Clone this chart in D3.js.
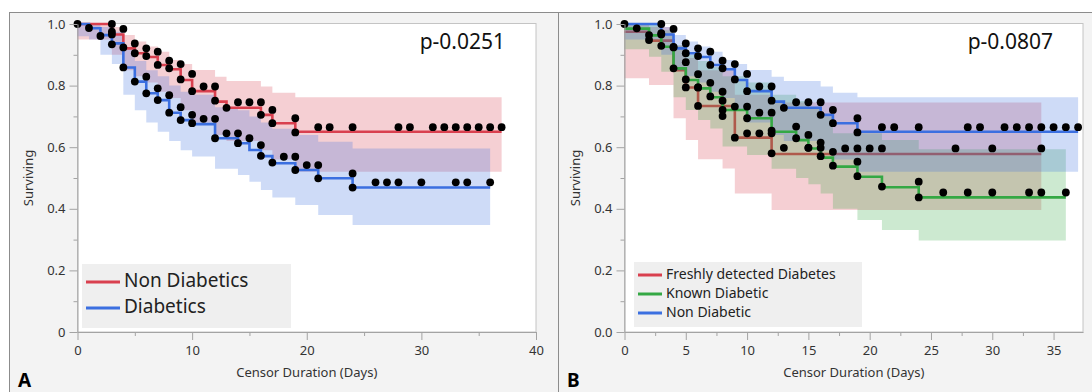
<!DOCTYPE html>
<html>
<head>
<meta charset="utf-8">
<script src="https://cdn.jsdelivr.net/npm/d3@7"></script>
<style>
  body { margin: 0; background: #fff; }
  svg { display: block; }
  text { font-family: "Noto Sans", sans-serif; }
</style>
</head>
<body>
<div id="chart"></div>
<script>
// ---- data: [day, survival, lower CI, upper CI] per step ----
const nonDiabSteps = [
  [0, 1.0, 0.95, 1.0], [3, 0.966, 0.90, 0.99], [4, 0.921, 0.85, 0.964],
  [5, 0.905, 0.83, 0.943], [6, 0.893, 0.81, 0.927], [7, 0.867, 0.78, 0.91],
  [8, 0.853, 0.76, 0.883], [9, 0.818, 0.72, 0.87], [10, 0.782, 0.68, 0.851],
  [12, 0.748, 0.64, 0.829], [13, 0.728, 0.62, 0.815], [16, 0.705, 0.59, 0.797],
  [17, 0.678, 0.56, 0.777], [19, 0.650, 0.52, 0.762]
];
const nonDiabEnd = 37;
const nonDiabMarks = [
  [0, 1.0], [3, 1.0], [3, 0.966], [4, 0.984], [4, 0.924], [5, 0.937], [5, 0.905],
  [6, 0.921], [6, 0.896], [7, 0.91], [7, 0.867], [8, 0.881], [8, 0.856], [9, 0.870],
  [9, 0.820], [10, 0.838], [10, 0.782], [11, 0.797], [12, 0.797], [12, 0.751],
  [13, 0.728], [14, 0.746], [15, 0.746], [16, 0.746], [16, 0.705], [17, 0.721],
  [17, 0.678], [19, 0.694], [19, 0.648], [21, 0.665], [22, 0.665], [24, 0.665],
  [28, 0.665], [29, 0.665], [31, 0.665], [32, 0.665], [33, 0.665], [34, 0.665],
  [35, 0.665], [36, 0.665], [37, 0.665]
];

const diabSteps = [
  [0, 1.0, 0.96, 1.0], [1, 0.986, 0.95, 1.0], [2, 0.964, 0.90, 0.99],
  [3, 0.937, 0.87, 0.975], [4, 0.859, 0.77, 0.92], [5, 0.813, 0.72, 0.88],
  [6, 0.775, 0.68, 0.85], [7, 0.753, 0.65, 0.83], [8, 0.712, 0.62, 0.80],
  [9, 0.688, 0.59, 0.78], [10, 0.675, 0.57, 0.77], [12, 0.629, 0.53, 0.73],
  [14, 0.613, 0.51, 0.72], [15, 0.591, 0.488, 0.70], [16, 0.571, 0.461, 0.68],
  [17, 0.548, 0.437, 0.66], [19, 0.526, 0.412, 0.64], [21, 0.499, 0.38, 0.618],
  [24, 0.469, 0.347, 0.596]
];
const diabEnd = 36;
const diabMarks = [
  [1, 0.987], [2, 0.961], [3, 0.975], [3, 0.934], [4, 0.859], [5, 0.813],
  [6, 0.829], [6, 0.775], [7, 0.791], [7, 0.753], [8, 0.769], [8, 0.712],
  [9, 0.730], [9, 0.688], [10, 0.705], [10, 0.678], [11, 0.692], [12, 0.692],
  [12, 0.629], [13, 0.645], [14, 0.645], [14, 0.613], [15, 0.629], [16, 0.607],
  [16, 0.572], [17, 0.55], [18, 0.569], [19, 0.569], [19, 0.526], [20, 0.542],
  [21, 0.542], [21, 0.499], [24, 0.515], [24, 0.469], [26, 0.486], [27, 0.486],
  [28, 0.486], [30, 0.486], [33, 0.486], [34, 0.486], [36, 0.486]
];

const freshSteps = [
  [0, 0.975, 0.824, 1.0], [2, 0.946, 0.802, 0.99], [4, 0.85, 0.694, 0.93],
  [5, 0.794, 0.623, 0.89], [6, 0.734, 0.561, 0.85], [8, 0.734, 0.531, 0.85],
  [9, 0.631, 0.45, 0.77], [12, 0.578, 0.396, 0.745]
];
const freshEnd = 34;
const freshMarks = [
  [2, 0.948], [5, 0.794], [6, 0.794], [6, 0.734], [8, 0.751], [8, 0.701],
  [9, 0.631], [10, 0.645], [11, 0.645], [12, 0.645], [12, 0.58], [13, 0.598],
  [15, 0.598], [16, 0.598], [18, 0.596], [19, 0.596], [20, 0.596], [21, 0.596],
  [27, 0.596], [30, 0.596], [34, 0.596]
];

const knownSteps = [
  [0, 0.985, 0.918, 1.0], [2, 0.963, 0.894, 1.0], [3, 0.926, 0.845, 0.98],
  [4, 0.856, 0.762, 0.93], [5, 0.818, 0.721, 0.90], [6, 0.791, 0.688, 0.88],
  [7, 0.762, 0.661, 0.86], [8, 0.721, 0.602, 0.83], [10, 0.694, 0.575, 0.81],
  [12, 0.650, 0.53, 0.77], [14, 0.623, 0.50, 0.75], [15, 0.596, 0.48, 0.73],
  [16, 0.566, 0.45, 0.70], [17, 0.537, 0.40, 0.645], [19, 0.504, 0.364, 0.645],
  [21, 0.470, 0.331, 0.623], [24, 0.437, 0.297, 0.593]
];
const knownEnd = 36;
const knownMarks = [
  [1, 0.986], [2, 0.964], [3, 0.97], [3, 0.929], [4, 0.926], [4, 0.856],
  [5, 0.876], [5, 0.82], [6, 0.837], [6, 0.794], [7, 0.809], [7, 0.765],
  [8, 0.78], [8, 0.721], [9, 0.732], [10, 0.732], [10, 0.694], [11, 0.712],
  [12, 0.712], [12, 0.654], [14, 0.667], [14, 0.629], [15, 0.64], [15, 0.598],
  [16, 0.615], [16, 0.571], [17, 0.585], [17, 0.54], [19, 0.553], [19, 0.506],
  [21, 0.472], [24, 0.488], [24, 0.437], [26, 0.453], [28, 0.453], [30, 0.453],
  [33, 0.453], [34, 0.453], [36, 0.453]
];

const yTicks = [0, 0.2, 0.4, 0.6, 0.8, 1.0];
const yMinor = [0.1, 0.3, 0.5, 0.7, 0.9];
const xTicksA = [0, 10, 20, 30, 40];
const xMinorA = [5, 15, 25, 35];
const xTicksB = [0, 5, 10, 15, 20, 25, 30, 35];
const xMinorB = [2.5, 7.5, 12.5, 17.5, 22.5, 27.5, 32.5];

const RED = '#d9404f', BLUE = '#3b6fe0', GREEN = '#34a844';

const svg = d3.select('#chart').append('svg')
  .attr('width', 1092)
  .attr('height', 392);

// outer panels
svg.append('rect')
  .attr('x', 9.5).attr('y', 12.5)
  .attr('width', 1100).attr('height', 400)
  .attr('fill', '#f3f3f3')
  .attr('stroke', '#8c8c8c');
svg.append('line')
  .attr('x1', 558.5).attr('x2', 558.5)
  .attr('y1', 12.5).attr('y2', 392)
  .attr('stroke', '#8c8c8c');

function drawPanel(cfg) {
  const x = d3.scaleLinear().domain([0, cfg.xMax]).range([cfg.left, cfg.right]);
  const y = d3.scaleLinear().domain([0, 1]).range([332, 24]);
  const g = svg.append('g');

  g.append('rect')
    .attr('x', cfg.left).attr('y', 23.5)
    .attr('width', cfg.right - cfg.left).attr('height', 332 - 23.5)
    .attr('fill', '#fff')
    .attr('stroke', '#c4c4c4');

  const band = d3.area()
    .x((d) => x(d[0]))
    .y0((d) => y(d[2]))
    .y1((d) => y(d[3]))
    .curve(d3.curveStepAfter);
  const line = d3.line()
    .x((d) => x(d[0]))
    .y((d) => y(d[1]))
    .curve(d3.curveStepAfter);

  cfg.layers.forEach(([kind, s]) => {
    const last = s.steps[s.steps.length - 1];
    const pts = s.steps.concat([[s.end, last[1], last[2], last[3]]]);
    if (kind === 'band') {
      g.append('path')
        .datum(pts)
        .attr('fill', s.color)
        .attr('fill-opacity', 0.25)
        .attr('d', band);
    } else {
      g.append('path')
        .datum(pts)
        .attr('fill', 'none')
        .attr('stroke', s.color)
        .attr('stroke-width', 2.6)
        .attr('d', line);
    }
  });

  cfg.marks.forEach((m) => {
    g.selectAll(null)
      .data(m)
      .enter().append('circle')
        .attr('cx', (d) => x(d[0]))
        .attr('cy', (d) => y(d[1]))
        .attr('r', 3.9)
        .attr('fill', '#000');
  });

  // axes
  const styleAxis = (ax) => {
    ax.select('.domain').attr('stroke', '#a3a3a3');
    ax.selectAll('.tick line').attr('stroke', '#a3a3a3');
    ax.selectAll('.tick text').attr('fill', '#333').attr('font-size', 13)
      .attr('font-family', '"Noto Sans", sans-serif');
  };
  styleAxis(g.append('g')
    .attr('transform', `translate(${cfg.left},0)`)
    .call(d3.axisLeft(y).tickValues(yTicks).tickSize(8).tickSizeOuter(0)
      .tickPadding(4).tickFormat(cfg.yFormat)));
  g.append('g')
    .attr('transform', `translate(${cfg.left},0)`)
    .call(d3.axisLeft(y).tickValues(yMinor).tickSize(4).tickFormat(''))
    .call((a) => { a.select('.domain').remove(); a.selectAll('line').attr('stroke', '#a3a3a3'); });

  styleAxis(g.append('g')
    .attr('transform', 'translate(0,332)')
    .call(d3.axisBottom(x).tickValues(cfg.xTicks).tickSize(8).tickSizeOuter(0)
      .tickPadding(6).tickFormat(d3.format('d'))));
  g.append('g')
    .attr('transform', 'translate(0,332)')
    .call(d3.axisBottom(x).tickValues(cfg.xMinor).tickSize(4).tickFormat(''))
    .call((a) => { a.select('.domain').remove(); a.selectAll('line').attr('stroke', '#a3a3a3'); });

  g.append('text')
    .attr('x', (cfg.left + cfg.right) / 2).attr('y', 377)
    .attr('text-anchor', 'middle')
    .attr('font-size', 13).attr('fill', '#333')
    .text('Censor Duration (Days)');
  g.append('text')
    .attr('transform', `translate(${cfg.left - 45},178) rotate(-90)`)
    .attr('text-anchor', 'middle')
    .attr('font-size', 13).attr('fill', '#333')
    .text('Surviving');
  g.append('text')
    .attr('x', cfg.pRight).attr('y', 49)
    .attr('text-anchor', 'end')
    .attr('font-size', 21).attr('fill', '#111')
    .text(cfg.pText);
  g.append('text')
    .attr('x', cfg.letterX).attr('y', 387)
    .attr('font-family', '"Liberation Sans", Arial, sans-serif')
    .attr('font-weight', 'bold').attr('font-size', 19).attr('fill', '#000')
    .text(cfg.letter);

  // legend
  const L = cfg.legend;
  g.append('rect')
    .attr('x', L.x).attr('y', L.y).attr('width', L.w).attr('height', L.h)
    .attr('fill', '#efefef');
  L.items.forEach((it, i) => {
    const yy = L.y + L.first + i * L.step;
    g.append('line')
      .attr('x1', L.x + 4).attr('x2', L.x + 4 + L.len)
      .attr('y1', yy).attr('y2', yy)
      .attr('stroke', it.color).attr('stroke-width', 3);
    g.append('text')
      .attr('x', L.x + 8 + L.len).attr('y', yy)
      .attr('dominant-baseline', 'middle')
      .attr('font-size', L.size).attr('fill', '#222')
      .text(it.name);
  });
}

const nonDiabA = {steps: nonDiabSteps, end: nonDiabEnd, color: RED};
const diabA = {steps: diabSteps, end: diabEnd, color: BLUE};
const freshB = {steps: freshSteps, end: freshEnd, color: RED};
const knownB = {steps: knownSteps, end: knownEnd, color: GREEN};
const nonDiabB = {steps: nonDiabSteps, end: nonDiabEnd, color: BLUE};

drawPanel({
  left: 77.5, right: 536, xMax: 40, xTicks: xTicksA, xMinor: xMinorA,
  yFormat: (d) => (d === 0 ? '0' : d3.format('.1f')(d)),
  layers: [['band', nonDiabA], ['band', diabA], ['line', nonDiabA], ['line', diabA]],
  marks: [nonDiabMarks, diabMarks],
  pText: 'p-0.0251', pRight: 505, letter: 'A', letterX: 18,
  legend: {x: 82, y: 264, w: 209, h: 64, first: 18, step: 26, len: 34, size: 19,
    items: [{name: 'Non Diabetics', color: RED}, {name: 'Diabetics', color: BLUE}]}
});

drawPanel({
  left: 624.5, right: 1083, xMax: 37.4, xTicks: xTicksB, xMinor: xMinorB,
  yFormat: d3.format('.1f'),
  layers: [['band', freshB], ['line', freshB], ['band', knownB], ['band', nonDiabB],
    ['line', knownB], ['line', nonDiabB]],
  marks: [freshMarks, knownMarks, nonDiabMarks],
  pText: 'p-0.0807', pRight: 1053, letter: 'B', letterX: 567,
  legend: {x: 634, y: 262, w: 228, h: 65, first: 13, step: 19, len: 24, size: 14,
    items: [{name: 'Freshly detected Diabetes', color: RED},
      {name: 'Known Diabetic', color: GREEN}, {name: 'Non Diabetic', color: BLUE}]}
});
</script>
</body>
</html>
